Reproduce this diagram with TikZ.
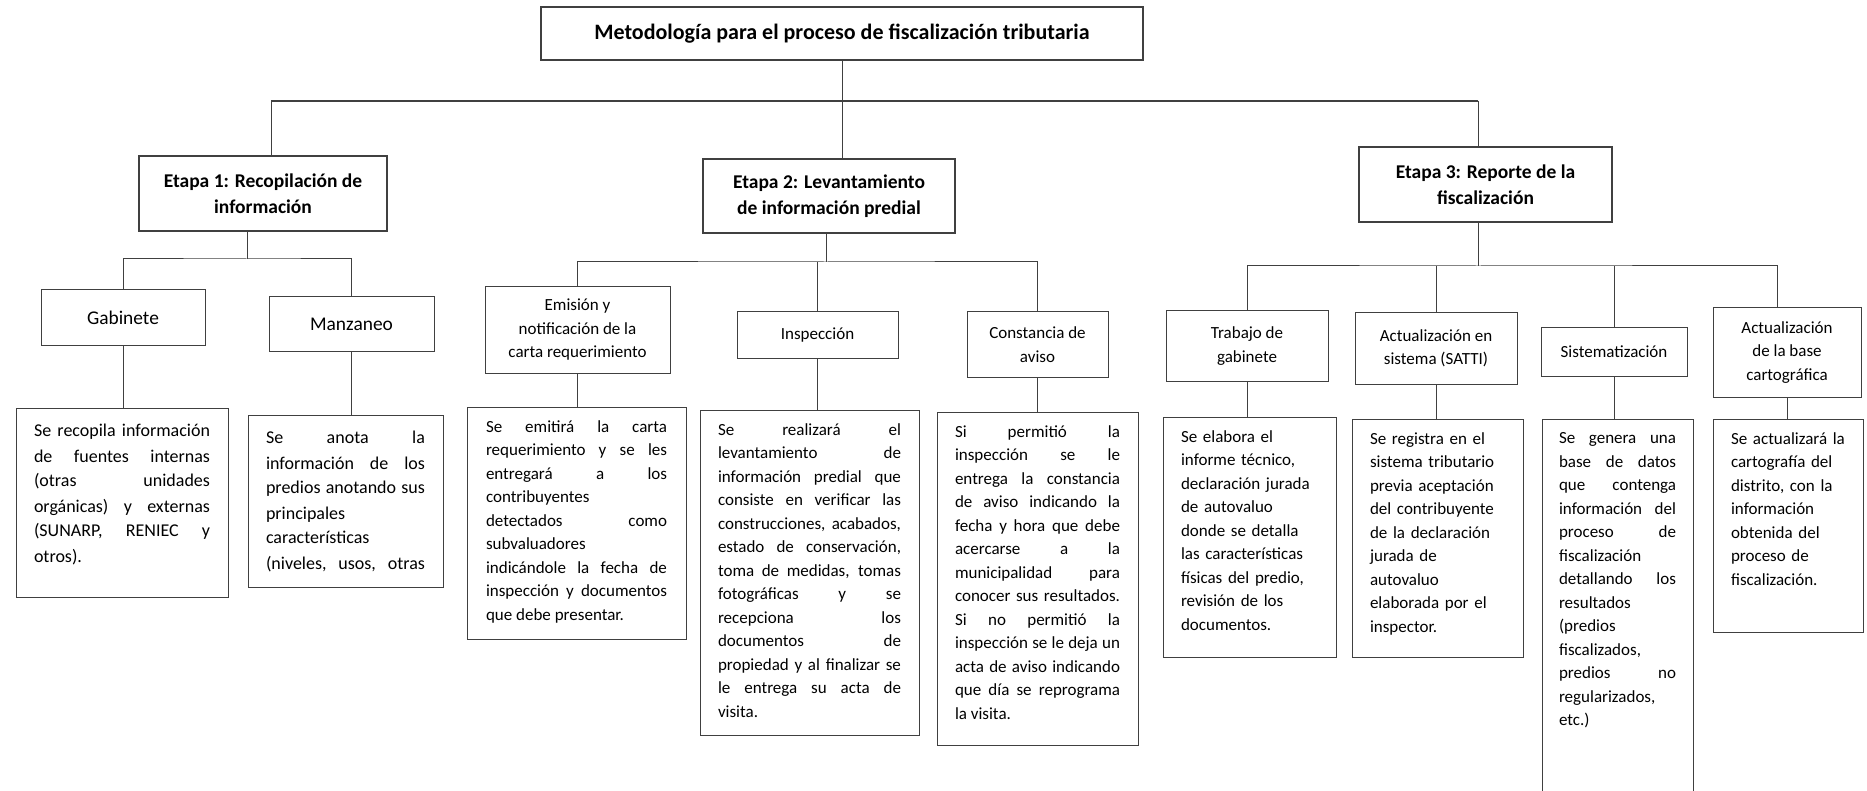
\documentclass[tikz,border=0pt]{standalone}
\usepackage{fontspec}
\setmainfont{Carlito}
\colorlet{linea}{black!75}
\tikzset{%
  etapa/.style={draw=linea, line width=1.2pt, align=center, inner sep=0pt,
    font=\bfseries\fontsize{19.5}{26.5}\selectfont},%
  titulo/.style={etapa, font=\bfseries\fontsize{22}{26.5}\selectfont},%
  rama/.style={draw=linea, line width=1pt, align=center, inner sep=0pt,
    font=\fontsize{17}{23.5}\selectfont},%
  ramag/.style={rama, font=\fontsize{19.4}{25}\selectfont},%
  caja/.style={draw=linea, line width=1pt, anchor=north, inner xsep=18pt,
    inner ysep=13pt, font=\fontsize{17}{23.5}\selectfont},%
  cajag/.style={caja, inner ysep=16pt, font=\fontsize{18}{25}\selectfont},%
  tam/.style 2 args={minimum width=#1, minimum height=#2},%
  enlace/.style={draw=linea, line width=1pt}%
}
% text blocks of fixed height, top aligned: justified and ragged
\newcommand{\texto}[2]{\parbox[t][#1][t]{\hsize}{\rightskip=0pt
  \spaceskip=.226em plus 1fil minus .08em \xspaceskip=\spaceskip
  \parfillskip=0pt plus 1fill \hyphenpenalty=10000 #2}}
\newcommand{\textor}[2]{\parbox[t][#1][t]{\hsize}{\raggedright #2}}

\begin{document}
\begin{tikzpicture}[x=1pt,y=-1pt]
  \useasboundingbox (0,0) rectangle (1867,791);
  % title and stages
  \node[titulo, tam={602pt}{53pt}] (tit) at (842,33.5) {Metodología para el proceso de fiscalización tributaria};
  \node[etapa, tam={248pt}{75pt}] (e1) at (263,193.5) {Etapa 1: Recopilación de\\información};
  \node[etapa, tam={252pt}{74pt}] (e2) at (829,196) {Etapa 2: Levantamiento\\de información predial};
  \node[etapa, tam={253pt}{75pt}] (e3) at (1485.5,184.5) {Etapa 3: Reporte de la\\fiscalización};
  % junctions
  \coordinate (j0) at (842,101);
  \coordinate (h1) at (271,101);
  \coordinate (h3) at (1478,101);
  \coordinate (b1) at (247,259);
  \coordinate (b2) at (826,262);
  \coordinate (b3) at (1478,266);
  % second level
  \node[ramag, tam={164pt}{55pt}] (gab) at (123,317.5) {Gabinete};
  \node[ramag, tam={165pt}{54pt}] (man) at (351.5,324) {Manzaneo};
  \node[rama, tam={185pt}{86pt}] (emi) at (577.5,330) {Emisión y\\notificación de la\\carta requerimiento};
  \node[rama, tam={161pt}{46pt}] (ins) at (817.5,335) {Inspección};
  \node[rama, tam={141pt}{65pt}] (con) at (1037.5,344.5) {Constancia de\\aviso};
  \node[rama, tam={162pt}{70pt}] (tra) at (1247,346) {Trabajo de\\gabinete};
  \node[rama, tam={162pt}{71pt}] (sat) at (1436,348.5) {Actualización en\\sistema (SATTI)};
  \node[rama, tam={146pt}{49pt}] (sis) at (1614,351.5) {Sistematización};
  \node[rama, tam={148pt}{89pt}] (car) at (1787,352.5) {Actualización\\de la base\\cartográfica};
  % descriptions
  \node[cajag, text width=176pt, inner xsep=18pt] (gabt) at (122,408) {\texto{157pt}{Se recopila información\linebreak de fuentes internas\linebreak (otras unidades\linebreak orgánicas) y externas\linebreak (SUNARP, RENIEC y\linebreak otros).}};
  \node[cajag, text width=159pt] (mant) at (345.5,415) {\texto{140pt}{\parfillskip=0pt Se anota la\linebreak información de los\linebreak predios anotando sus\linebreak principales\linebreak características\linebreak (niveles, usos, otras}};
  \node[caja, text width=181pt, inner xsep=19pt] (emit) at (576.5,407) {\texto{206pt}{Se emitirá la carta\linebreak requerimiento y se les\linebreak entregará a los\linebreak contribuyentes\linebreak detectados como\linebreak subvaluadores\linebreak indicándole la fecha de\linebreak inspección y documentos\linebreak que debe presentar.}};
  \node[caja, text width=183pt] (inst) at (809.5,410) {\texto{299pt}{Se realizará el\linebreak levantamiento de\linebreak información predial que\linebreak consiste en verificar las\linebreak construcciones, acabados,\linebreak estado de conservación,\linebreak toma de medidas, tomas\linebreak fotográficas y se\linebreak recepciona los\linebreak documentos de\linebreak propiedad y al finalizar se\linebreak le entrega su acta de\linebreak visita.}};
  \node[caja, text width=165pt] (cont) at (1037.5,412) {\texto{307pt}{Si permitió la\linebreak inspección se le\linebreak entrega la constancia\linebreak de aviso indicando la\linebreak fecha y hora que debe\linebreak acercarse a la\linebreak municipalidad para\linebreak conocer sus resultados.\linebreak Si no permitió la\linebreak inspección se le deja un\linebreak acta de aviso indicando\linebreak que día se reprograma\linebreak la visita.}};
  \node[caja, text width=137pt] (trat) at (1249.5,417) {\textor{214pt}{Se elabora el\\informe técnico,\\declaración jurada\\de autovaluo\\donde se detalla\\las características\\físicas del predio,\\revisión de los\\documentos.}};
  \node[caja, text width=135pt] (satt) at (1437.5,419) {\textor{212pt}{Se registra en el\\sistema tributario\\previa aceptación\\del contribuyente\\de la declaración\\jurada de\\autovaluo\\elaborada por el\\inspector.}};
  \node[caja, text width=117pt, inner xsep=17pt] (sist) at (1617.5,419) {\texto{374pt}{Se genera una\linebreak base de datos\linebreak que contenga\linebreak información del\linebreak proceso de\linebreak fiscalización\linebreak detallando los\linebreak resultados\linebreak (predios\linebreak fiscalizados,\linebreak predios no\linebreak regularizados,\linebreak etc.)}};
  \node[caja, text width=114pt] (cart) at (1788,419) {\textor{187pt}{Se actualizará la\\cartografía del\\distrito, con la\\información\\obtenida del\\proceso de\\fiscalización.}};
  % connectors, top
  \draw[enlace, line width=2pt] (h1) -- (h3);
  \draw[enlace] (tit) -- (j0) -- (j0 |- e2.north);
  \draw[enlace] (h1) -- (h1 |- e1.north);
  \draw[enlace] (h3) -- (h3 |- e3.north);
  % connectors, stages
  \draw[enlace] (b1 |- e1.south) -- (b1);
  \draw[enlace] (gab.north) |- (b1) -| (man.north);
  \draw[enlace] (b2 |- e2.south) -- (b2);
  \draw[enlace] (emi.north) |- (b2) -| (con.north);
  \draw[enlace] (ins.north) -- (ins.north |- b2);
  \draw[enlace] (b3 |- e3.south) -- (b3);
  \draw[enlace] (tra.north) |- (b3) -| ([xshift=-10pt]car.north);
  \draw[enlace] (sat.north) -- (sat.north |- b3);
  \draw[enlace] (sis.north) -- (sis.north |- b3);
  % connectors, descriptions
  \foreach \a/\b in {gab/gabt, man/mant, emi/emit, ins/inst, con/cont, tra/trat, sat/satt, sis/sist, car/cart}
    \draw[enlace] (\a.south) -- (\a.south |- \b.north);
\end{tikzpicture}
\end{document}
